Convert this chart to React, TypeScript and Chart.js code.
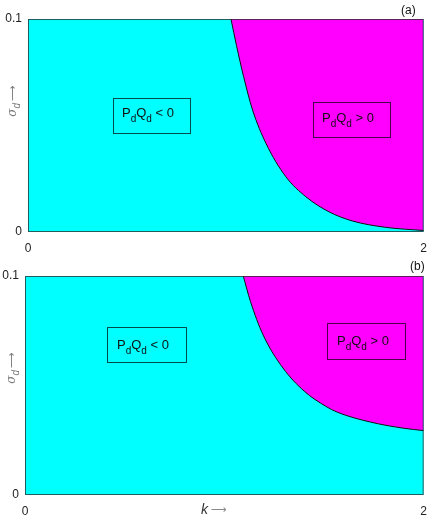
import React, { useEffect, useRef } from "react";
import { Chart, registerables } from "chart.js";

Chart.register(...registerables);

// ---- data ----
const kA = [1.026, 1.054, 1.09, 1.135, 1.203, 1.303, 1.404, 1.521, 1.639, 1.807, 2.0];
const sigmaA = [0.1, 0.0875, 0.0729, 0.0573, 0.0416, 0.026, 0.0166, 0.0095, 0.0052, 0.0022, 0.0007];
const kB = [1.095, 1.131, 1.194, 1.294, 1.401, 1.509, 1.567, 1.733, 1.899, 2.0];
const sigmaB = [0.1, 0.0884, 0.0732, 0.058, 0.0474, 0.0405, 0.0378, 0.0333, 0.0305, 0.0294];
const xTicks = [0, 2];
const yTicks = [0, 0.1];
const panelLabels = ["(a)", "(b)"];
const regionLabels = ["< 0", "> 0"];

const FONT = "'Liberation Sans', Arial, Helvetica, sans-serif";

type Box = { x: number; y: number; w: number; h: number; tx: number; ty: number; label: string };
type PanelCfg = {
  k: number[];
  s: number[];
  tag: string;
  top: number;
  height: number;
  padTop: number;
  padRight: number;
  yWidth: number;
  xHeight: number;
  tagPos: [number, number];
  yTitlePos: [number, number];
  xTitle: boolean;
  boxes: Box[];
};

const panels: PanelCfg[] = [
  {
    k: kA,
    s: sigmaA,
    tag: panelLabels[0],
    top: 0,
    height: 261,
    padTop: 19,
    padRight: 11,
    yWidth: 28,
    xHeight: 29,
    tagPos: [401, 11],
    yTitlePos: [13, 101],
    xTitle: false,
    boxes: [
      { x: 113.5, y: 98.5, w: 77, h: 35, tx: 122, ty: 117, label: regionLabels[0] },
      { x: 313.5, y: 102.5, w: 77, h: 35, tx: 322, ty: 122, label: regionLabels[1] },
    ],
  },
  {
    k: kB,
    s: sigmaB,
    tag: panelLabels[1],
    top: 261,
    height: 261,
    padTop: 15,
    padRight: 9,
    yWidth: 25,
    xHeight: 27,
    tagPos: [410, 6],
    yTitlePos: [12, 107],
    xTitle: true,
    boxes: [
      { x: 107.5, y: 66.5, w: 79, h: 35, tx: 117, ty: 88, label: regionLabels[0] },
      { x: 327.5, y: 62.5, w: 78, h: 36, tx: 337, ty: 84, label: regionLabels[1] },
    ],
  },
];

function drawPQ(ctx: CanvasRenderingContext2D, x: number, y: number, rel: string) {
  ctx.fillStyle = "#111";
  ctx.textBaseline = "alphabetic";
  ctx.textAlign = "left";
  const big = `13px ${FONT}`;
  const small = `10px ${FONT}`;
  let cx = x;
  ctx.font = big;
  ctx.fillText("P", cx, y);
  cx += ctx.measureText("P").width;
  ctx.font = small;
  ctx.fillText("d", cx, y + 5);
  cx += ctx.measureText("d").width;
  ctx.font = big;
  ctx.fillText("Q", cx, y);
  cx += ctx.measureText("Q").width;
  ctx.font = small;
  ctx.fillText("d", cx, y + 5);
  cx += ctx.measureText("d").width;
  ctx.font = big;
  ctx.fillText(" " + rel, cx, y);
}

const ARROW = "\u27F6";
const ARROW_FONT = "11px 'DejaVu Sans', sans-serif";

function Panel({ cfg }: { cfg: PanelCfg }) {
  const ref = useRef<HTMLCanvasElement | null>(null);
  useEffect(() => {
    if (!ref.current) return;
    const decor = {
      id: "decor",
      beforeDatasetsDraw(chart: any) {
        const { ctx, chartArea: a } = chart;
        ctx.save();
        ctx.fillStyle = "#00FFFF";
        ctx.fillRect(a.left, a.top, a.right - a.left, a.bottom - a.top);
        ctx.restore();
      },
      afterDraw(chart: any) {
        const { ctx, chartArea: a } = chart;
        ctx.save();
        // plot frame
        ctx.strokeStyle = "rgba(40,40,40,0.75)";
        ctx.lineWidth = 1;
        ctx.strokeRect(a.left + 0.5, a.top + 0.5, a.right - a.left - 1, a.bottom - a.top - 1);
        // region boxes
        for (const b of cfg.boxes) {
          ctx.strokeStyle = "rgba(0,0,0,0.7)";
          ctx.lineWidth = 1;
          ctx.strokeRect(b.x, b.y, b.w, b.h);
          drawPQ(ctx, b.tx, b.ty, b.label);
        }
        // panel tag
        ctx.fillStyle = "#111";
        ctx.font = `12px ${FONT}`;
        ctx.textAlign = "left";
        ctx.textBaseline = "middle";
        ctx.fillText(cfg.tag, cfg.tagPos[0], cfg.tagPos[1]);
        // y title: sigma_d ->
        ctx.translate(cfg.yTitlePos[0], cfg.yTitlePos[1]);
        ctx.rotate(-Math.PI / 2);
        ctx.fillStyle = "#7a7a7a";
        ctx.textBaseline = "middle";
        ctx.font = `italic 12px 'DejaVu Serif', serif`;
        const w0 = ctx.measureText("σ").width;
        ctx.font = `italic 10px ${FONT}`;
        const wd = ctx.measureText("d").width + 2;
        ctx.font = ARROW_FONT;
        const wa = ctx.measureText(ARROW).width;
        const total = w0 + wd + wa;
        let cx = -total / 2;
        ctx.font = `italic 12px 'DejaVu Serif', serif`;
        ctx.fillText("σ", cx, 0);
        cx += w0;
        ctx.font = `italic 10px ${FONT}`;
        ctx.fillText("d", cx, 4);
        cx += wd;
        ctx.font = ARROW_FONT;
        ctx.fillText(ARROW, cx, 0);
        ctx.setTransform(1, 0, 0, 1, 0, 0);
        if (cfg.xTitle) {
          ctx.textBaseline = "middle";
          ctx.textAlign = "left";
          ctx.fillStyle = "#333";
          ctx.font = `italic 14px ${FONT}`;
          ctx.fillText("k", 201, 249);
          const kw = ctx.measureText("k").width;
          ctx.fillStyle = "#888";
          ctx.font = ARROW_FONT;
          ctx.fillText(ARROW, 201 + kw + 3, 249);
        }
        ctx.restore();
      },
    };

    const chart = new Chart(ref.current, {
      type: "line",
      data: {
        datasets: [
          {
            data: cfg.k.map((k, i) => ({ x: k, y: cfg.s[i] })),
            borderColor: "#111",
            borderWidth: 1,
            pointRadius: 0,
            cubicInterpolationMode: "monotone",
            fill: "end",
            backgroundColor: "#FF00FF",
          },
        ],
      },
      options: {
        animation: false,
        responsive: false,
        layout: { padding: { top: cfg.padTop, right: cfg.padRight, left: 0, bottom: 0 } },
        plugins: { legend: { display: false }, tooltip: { enabled: false }, title: { display: false } },
        scales: {
          x: {
            type: "linear",
            min: 0,
            max: 2,
            grid: { display: false, drawTicks: false },
            border: { display: false },
            afterBuildTicks: (s: any) => {
              s.ticks = xTicks.map((v) => ({ value: v }));
            },
            afterFit: (s: any) => {
              s.height = cfg.xHeight;
            },
            ticks: {
              padding: 9,
              maxRotation: 0,
              color: "#222",
              font: { family: FONT, size: 12 },
            },
          },
          y: {
            type: "linear",
            min: 0,
            max: 0.1,
            grid: { display: false, drawTicks: false },
            border: { display: false },
            afterBuildTicks: (s: any) => {
              s.ticks = yTicks.map((v) => ({ value: v }));
            },
            afterFit: (s: any) => {
              s.width = cfg.yWidth;
            },
            ticks: {
              padding: 6,
              color: "#222",
              font: { family: FONT, size: 12 },
            },
          },
        },
      },
      plugins: [decor],
    } as any);
    return () => chart.destroy();
  }, [cfg]);
  return (
    <canvas
      ref={ref}
      width={436}
      height={cfg.height}
      style={{ position: "absolute", left: 0, top: cfg.top, width: 436, height: cfg.height }}
    />
  );
}

export default function App() {
  return (
    <div style={{ position: "absolute", left: 0, top: 0, width: 436, height: 522, background: "#fff" }}>
      {panels.map((p, i) => (
        <Panel key={i} cfg={p} />
      ))}
    </div>
  );
}
